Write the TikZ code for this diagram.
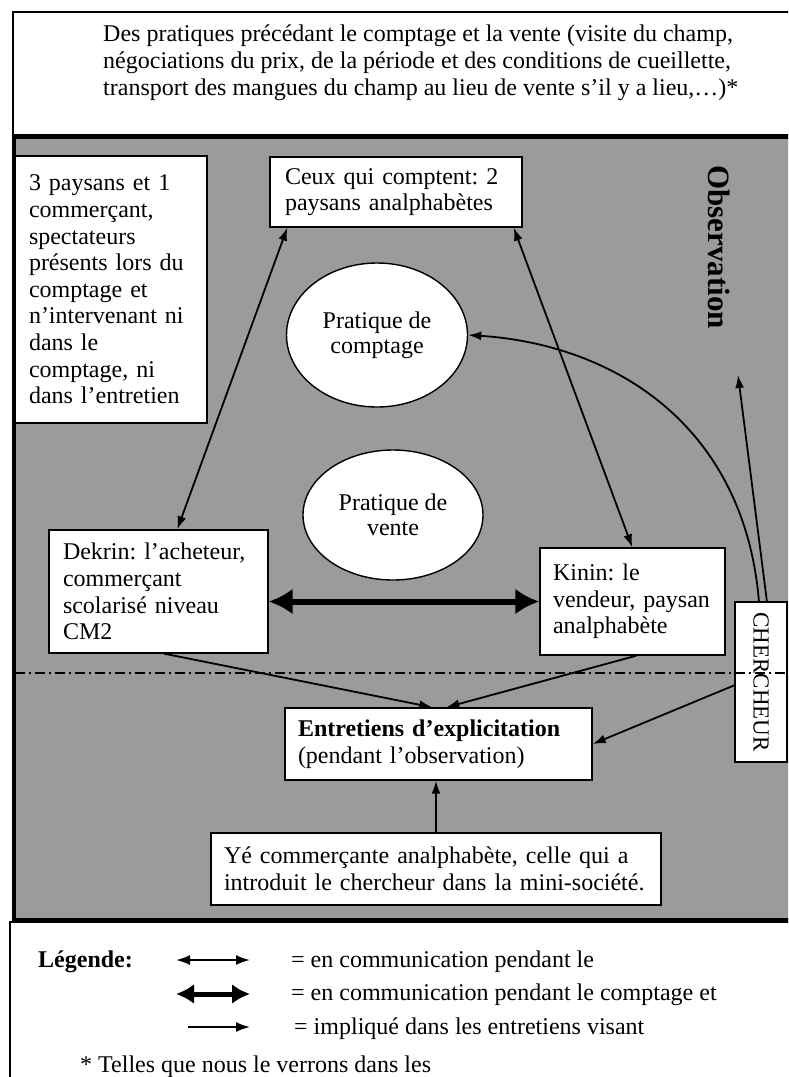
\documentclass[tikz,border=0pt]{standalone}
\usepackage{fontspec}
\setmainfont{Liberation Serif}
\usetikzlibrary{arrows.meta,calc,shapes.geometric}
\definecolor{obsgray}{RGB}{155,155,155}
\frenchspacing
\begin{document}
\begin{tikzpicture}[x=1pt,y=-1pt,
  every node/.style={font=\fontsize{24}{26.6}\selectfont},
  box/.style={draw=black, line width=1.4pt, fill=white, align=left, inner ysep=0pt},
  blob/.style={draw=black, line width=1.4pt, fill=white, ellipse, align=center,
    inner sep=0pt, font=\fontsize{24}{25}\selectfont},
  link/.style={line width=1.8pt, -{Latex[length=13pt,width=9pt]}},
  twoway/.style={line width=1.8pt, {Latex[length=13pt,width=9pt]}-{Latex[length=13pt,width=9pt]}},
  strong/.style={line width=6pt, {Latex[length=24pt,width=26pt]}-{Latex[length=24pt,width=26pt]}},
  keystrong/.style={line width=5pt, {Latex[length=18pt,width=20pt]}-{Latex[length=18pt,width=20pt]}},
  keytwoway/.style={line width=1.8pt, {Latex[length=14pt,width=10pt]}-{Latex[length=14pt,width=10pt]}},
  keylink/.style={line width=1.8pt, -{Latex[length=14pt,width=10pt]}},
  split/.style={line width=1.5pt, dash pattern=on 10pt off 4pt on 2pt off 4pt},
]
\useasboundingbox (0,0) rectangle (788,1077);
\fill[white] (0,0) rectangle (788,1077);
\clip (0,0) rectangle (788,1077);

% preliminary practices box
\draw[line width=1.3pt] (13,12) rectangle (800,135);
\node[anchor=west, align=left, inner sep=0pt, font=\fontsize{24}{27}\selectfont] (intro) at (103,63)
  {Des pratiques précédant le comptage et la vente (visite du champ,\\
   négociations du prix, de la période et des conditions de cueillette,\\
   transport des mangues du champ au lieu de vente s’il y a lieu,…)*};

% observation field
\draw[line width=4pt, fill=obsgray] (13.5,137) rectangle (800,920);

% legend frame
\draw[line width=1.3pt] (10,922) rectangle (800,1100);

% participants
\node[box, minimum width=192, minimum height=267, inner xsep=14, text width=164] (spect) at (111,289.5)
  {3 paysans et 1\\ commerçant,\\ spectateurs\\ présents lors du\\ comptage et\\ n’intervenant ni\\ dans le\\ comptage, ni\\ dans l’entretien};
\node[box, minimum width=252, minimum height=70, inner xsep=15, text width=222] (ceux) at (396,192)
  {Ceux qui comptent: 2\\ paysans analphabètes};
\node[blob, minimum width=181, minimum height=144] (comptage) at (377,335) {Pratique de\\ comptage};
\node[blob, minimum width=180, minimum height=130] (vente) at (393,515) {Pratique de\\ vente};
\node[box, minimum width=219, minimum height=123, inner xsep=14, text width=191] (dekrin) at (158.5,591.5)
  {Dekrin: l’acheteur,\\ commerçant\\ scolarisé niveau\\ CM2};
\node[box, minimum width=185, minimum height=107, inner xsep=13, text width=159] (kinin) at (632.5,601.5)
  {Kinin: le\\ vendeur, paysan\\ analphabète};
\node[box, rotate=-90, minimum width=160, minimum height=52, inner sep=0pt, align=center,
  font=\fontsize{23}{24}\selectfont] (cherch) at (761,682) {CHERCHEUR};
\node[box, minimum width=307, minimum height=72, inner xsep=13, text width=281] (entre) at (438.5,744)
  {\textbf{Entretiens d’explicitation}\\ (pendant l’observation)};
\node[box, minimum width=450, minimum height=72, inner xsep=13, text width=424] (ye) at (436,869)
  {Yé commerçante analphabète, celle qui a\\ introduit le chercheur dans la mini-société.};
\node[rotate=-90, inner sep=0pt, font=\fontsize{31}{32}\selectfont\bfseries] (obs) at (719,247) {Observation};

% boundary between observation and interviews
\coordinate (splitL) at (15,673);
\coordinate (splitR) at (800,673);
\draw[split] (splitL) -- (splitR);

% communication links
\draw[twoway] ($(ceux.south west)+(18,0)$) -- ($(dekrin.north west)+(129,0)$);
\draw[twoway] ($(ceux.south east)+(-9,0)$) -- ($(kinin.north west)+(93,0)$);
\draw[strong] (dekrin.east |- kinin.west) -- (kinin.west);

% researcher's links
\coordinate (obsend) at (738,375);
\draw[link] ($(cherch.center)+(-2,-80)$) .. controls (745,430) and (620,345) .. (comptage.east);
\draw[link] ($(cherch.center)+(6,-80)$) -- (obsend);
\draw[link] ($(cherch.center)+(-26,3)$) -- (entre.east);

% interview links
\draw[link] ($(dekrin.south west)+(116,0)$) -- ($(entre.north west)+(148,0)$);
\draw[link] ($(kinin.south west)+(97,0)$) -- ($(entre.north west)+(162,0)$);
\draw[link] (ye.north) -- (ye.north |- entre.south);

% legend
\node[anchor=base west, inner sep=0pt, font=\fontsize{24}{26}\selectfont\bfseries] (legtitle) at (38,967) {Légende:};
\coordinate (k1a) at (176,960); \coordinate (k1b) at (250,960);
\coordinate (k2a) at (176,994); \coordinate (k2b) at (250,994);
\coordinate (k3a) at (188,1027); \coordinate (k3b) at (250,1027);
\draw[keytwoway] (k1a) -- (k1b);
\draw[keystrong] (k2a) -- (k2b);
\draw[keylink] (k3a) -- (k3b);
\node[anchor=base west, inner sep=0pt] (key1) at (291,967) {= en communication pendant le};
\node[anchor=base west, inner sep=0pt] (key2) at (291,1000) {= en communication pendant le comptage et};
\node[anchor=base west, inner sep=0pt] (key3) at (294,1034) {= impliqué dans les entretiens visant};
\node[anchor=base west, inner sep=0pt] (note) at (80,1072) {* Telles que nous le verrons dans les};
\end{tikzpicture}
\end{document}
